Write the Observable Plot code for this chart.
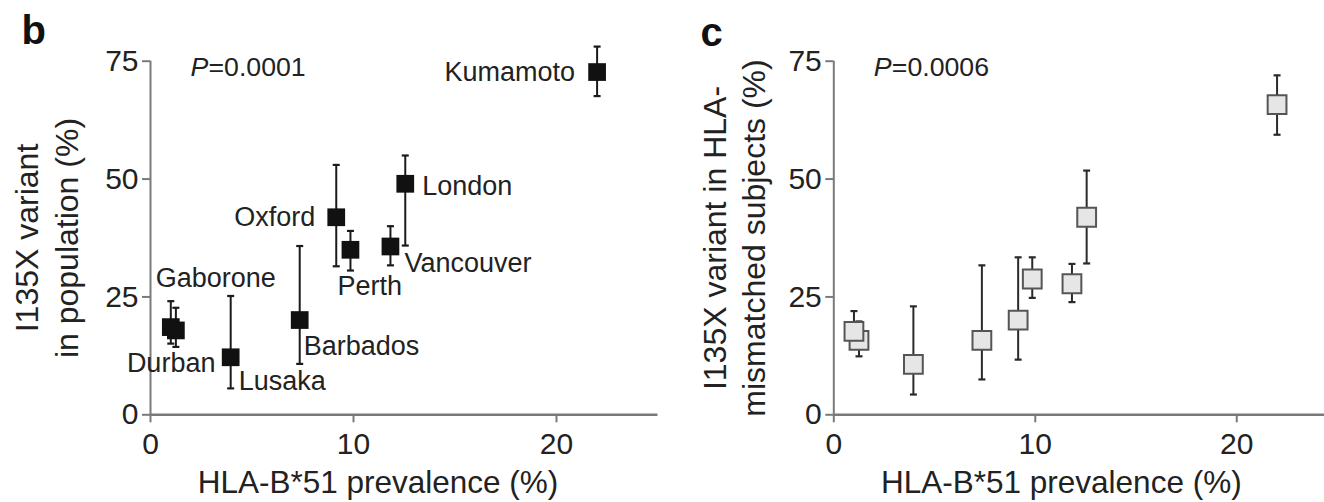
<!DOCTYPE html>
<html><head><meta charset="utf-8">
<script src="https://cdn.jsdelivr.net/npm/d3@7"></script>
<script src="https://cdn.jsdelivr.net/npm/@observablehq/plot@0.6"></script>
<style>
html,body{margin:0;padding:0;background:#fff;overflow:hidden;}
#wrap{position:relative;width:1324px;height:502px;overflow:hidden;background:#fff;}
#wrap svg{position:absolute;top:0;}
</style></head><body><div id="wrap"></div>
<script>
// ---- data ----
const cities = ["Durban", "Gaborone", "Lusaka", "Barbados", "Oxford", "Perth", "Vancouver", "London", "Kumamoto"];
const prevalence = [1.25, 1.0, 3.95, 7.35, 9.15, 9.85, 11.82, 12.55, 22.0];
// panel b: I135X variant in population (%)
const popVariant = [17.9, 18.6, 12.2, 20.1, 41.9, 35.0, 35.7, 49.0, 72.7];
const popLow     = [14.4, 15.1, 5.6, 10.8, 31.5, 30.6, 31.7, 35.9, 67.6];
const popHigh    = [22.7, 24.1, 25.2, 35.8, 53.0, 39.0, 40.0, 55.0, 78.1];
// panel c: I135X variant in HLA-mismatched subjects (%)
const mmVariant = [15.8, 17.7, 10.7, 15.8, 20.1, 28.8, 27.8, 41.9, 65.8];
const mmLow     = [12.4, 14.3, 4.3, 7.5, 11.7, 24.8, 23.9, 32.1, 59.4];
const mmHigh    = [19.8, 22.0, 23.0, 31.7, 33.4, 33.4, 32.0, 51.8, 72.0];

const xTicks = [0, 10, 20];
const yTicks = [0, 25, 50, 75];
const xTitle = "HLA-B*51 prevalence (%)";
const yTitleB = "I135X variant\nin population (%)";
const yTitleC = "I135X variant in HLA-\nmismatched subjects (%)";
const pValueB = "=0.0001";
const pValueC = "=0.0006";

// ---- label placement (layout only) ----
const labelPlacement = {
  Gaborone:  {dx: -15, dy: -49, anchor: "start"},
  Durban:    {dx: -49, dy: 33, anchor: "start"},
  Lusaka:    {dx: 8, dy: 24, anchor: "start"},
  Barbados:  {dx: 4, dy: 26.5, anchor: "start"},
  Oxford:    {dx: -21, dy: 0, anchor: "end"},
  Perth:     {dx: -13, dy: 37, anchor: "start"},
  Vancouver: {dx: 14, dy: 17, anchor: "start"},
  London:    {dx: 17, dy: 3, anchor: "start"},
  Kumamoto:  {dx: -22, dy: 0, anchor: "end"}
};

const FONT = "'Liberation Sans', Arial, Helvetica, sans-serif";
const AXIS = "#7a7a7a";
const INK = "#222";

const rowsB = cities.map((c, i) => ({city: c, x: prevalence[i], y: popVariant[i], lo: popLow[i], hi: popHigh[i]}));
const rowsC = cities.map((c, i) => ({city: c, x: prevalence[i], y: mmVariant[i], lo: mmLow[i], hi: mmHigh[i]}));

const capSymbol = {
  draw(ctx, size) {
    const w = Math.sqrt(size / Math.PI) * 1.75;
    ctx.moveTo(-w, 0);
    ctx.lineTo(w, 0);
  }
};

function panel(o) {
  const marks = [
    Plot.ruleY([0], {stroke: AXIS, strokeWidth: 2.5}),
    Plot.ruleX([0], {stroke: AXIS, strokeWidth: 2}),
    Plot.axisX({ticks: xTicks, tickSize: 8, tickPadding: 10, stroke: AXIS, strokeWidth: 2, fontSize: 30, fill: INK, label: null}),
    Plot.axisY({ticks: yTicks, tickSize: 8, tickPadding: 4, stroke: AXIS, strokeWidth: 2, fontSize: 30, fill: INK, label: null}),
    Plot.ruleX(o.rows, {x: "x", y1: "lo", y2: "hi", stroke: o.bar, strokeWidth: 2}),
    Plot.dot(o.rows, {x: "x", y: "hi", symbol: capSymbol, r: 2, stroke: o.bar, strokeWidth: 2.2, fill: "none"}),
    Plot.dot(o.rows, {x: "x", y: "lo", symbol: capSymbol, r: 2, stroke: o.bar, strokeWidth: 2.2, fill: "none"}),
    Plot.dot(o.rows, {x: "x", y: "y", symbol: "square", r: o.r, fill: o.fill, stroke: o.stroke, strokeWidth: o.strokeWidth}),
    Plot.text([o.letter], {text: d => d, frameAnchor: "top-left", dx: o.letterDx, dy: o.letterDy, lineAnchor: "bottom", textAnchor: "start", fontWeight: "bold", fontSize: 40, fill: "#111"}),
    Plot.text(["P"], {text: d => d, frameAnchor: "top-left", dx: 40, dy: 14.5, lineAnchor: "bottom", textAnchor: "start", fontStyle: "italic", fontSize: 26.7, fill: INK}),
    Plot.text([o.pValue], {text: d => d, frameAnchor: "top-left", dx: 58, dy: 14.5, lineAnchor: "bottom", textAnchor: "start", fontSize: 26.7, fill: INK}),
    Plot.text([xTitle], {text: d => d, frameAnchor: "bottom-left", dx: 227.5, dy: 77.7, lineAnchor: "bottom", textAnchor: "middle", fontSize: 31.5, fill: INK}),
    Plot.text([o.yTitle], {text: d => d, frameAnchor: "left", dx: o.yTitleDx, rotate: -90, lineAnchor: "bottom", textAnchor: "middle", lineHeight: 1.22, fontSize: 32, fill: INK})
  ];
  if (o.labels) {
    for (const r of o.rows) {
      const p = labelPlacement[r.city];
      marks.push(Plot.text([r], {x: "x", y: "y", text: "city", dx: p.dx, dy: p.dy, textAnchor: p.anchor, lineAnchor: "middle", fontSize: 27, fill: INK}));
    }
  }
  const svg = Plot.plot({
    width: o.width, height: 502,
    marginLeft: o.marginLeft, marginRight: o.marginRight, marginTop: 60.7, marginBottom: 87.7,
    x: {domain: [0, 25]},
    y: {domain: [0, 75]},
    style: {fontFamily: FONT, color: INK, background: "transparent", overflow: "visible"},
    marks
  });
  svg.style.left = o.left + "px";
  return svg;
}

const wrap = document.getElementById("wrap");
// panel c: draw the x=1.0 square after the x=1.25 one (row order already does)
wrap.appendChild(panel({rows: rowsB, letter: "b", pValue: pValueB, yTitle: yTitleB, yTitleDx: -73,
  fill: "#111", stroke: "none", strokeWidth: 0, r: 10, bar: "#1a1a1a", labels: true,
  width: 660, marginLeft: 150, marginRight: 2.5, left: 0, letterDx: -129, letterDy: -17.7}));
wrap.appendChild(panel({rows: rowsC, letter: "c", pValue: pValueC, yTitle: yTitleC, yTitleDx: -69,
  fill: "#e6e6e6", stroke: "#555", strokeWidth: 2, r: 10.6, bar: "#2a2a2a", labels: false,
  width: 677, marginLeft: 173.3, marginRight: 0, left: 660, letterDx: -133.3, letterDy: -15.7}));
</script>
</body></html>
